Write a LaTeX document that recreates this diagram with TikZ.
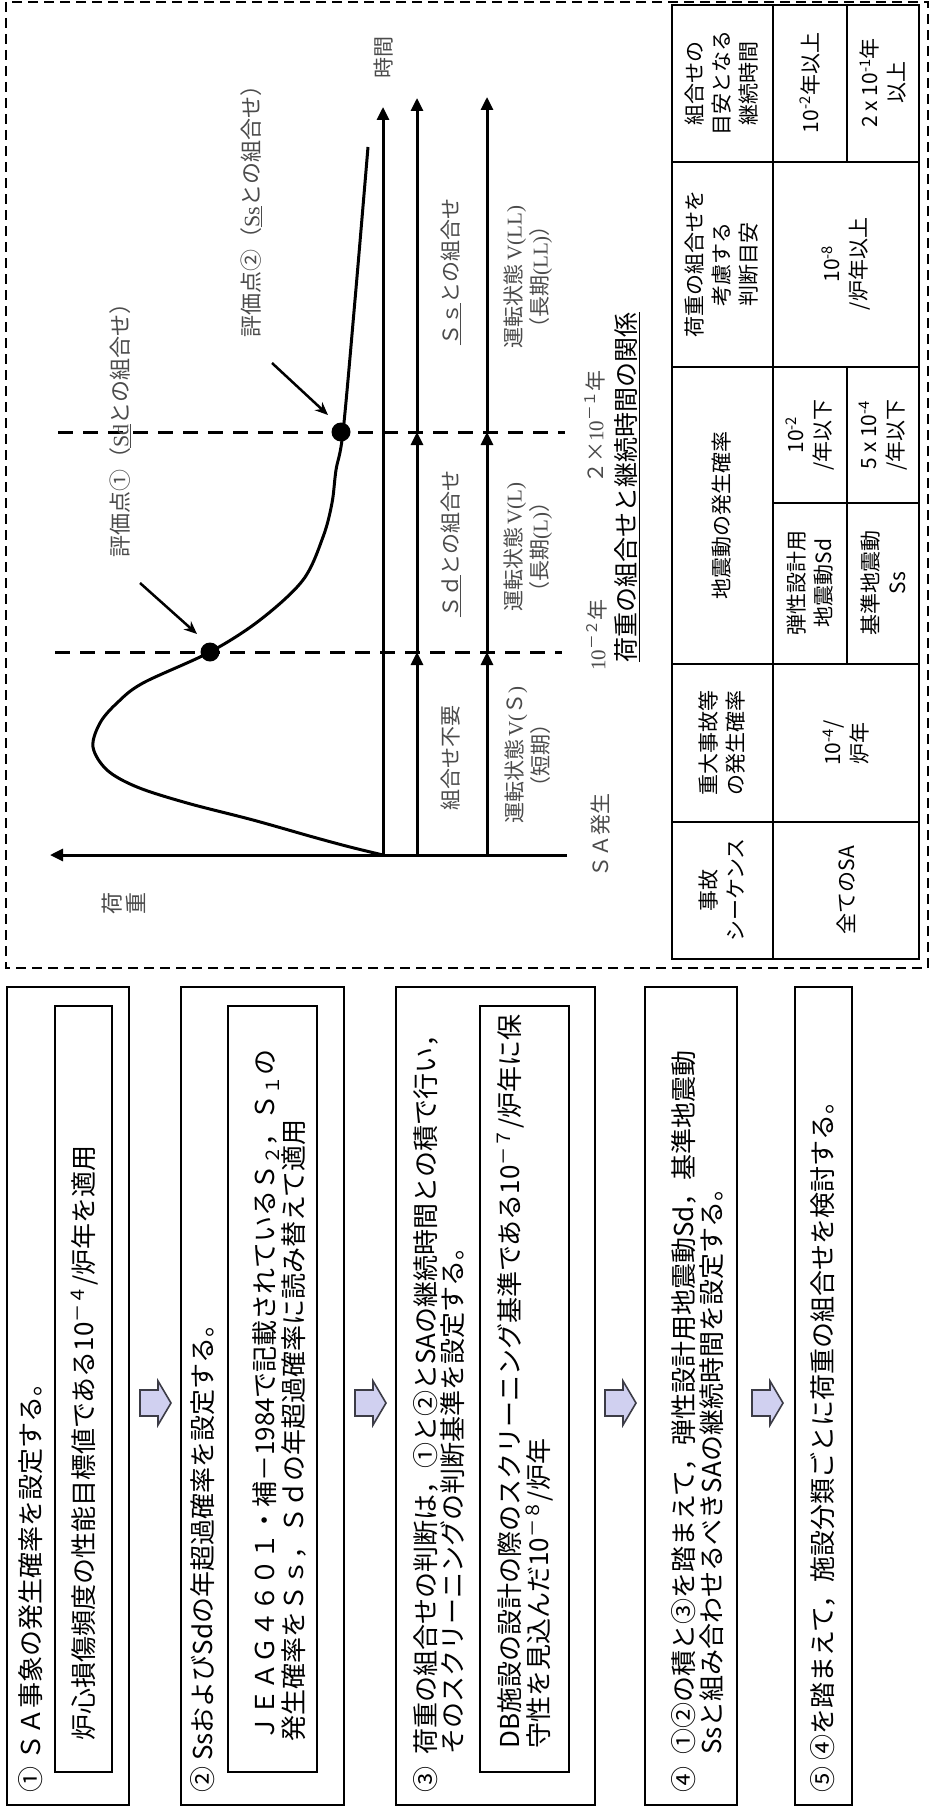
\documentclass[tikz,border=0pt]{standalone}
\usepackage{fontspec}
\setmainfont{Noto Sans CJK JP}
\newfontfamily\lser{Liberation Serif}
\usetikzlibrary{arrows.meta}
\definecolor{arrowfill}{RGB}{208,208,240}
\definecolor{arrowline}{RGB}{60,60,70}
\definecolor{graphtxt}{RGB}{75,75,75}
\begin{document}
\begin{tikzpicture}[x=1pt,y=-1pt,
  frame/.style={line width=2pt, dash pattern=on 10pt off 6pt},
  box/.style={line width=2pt},
  ibox/.style={line width=1.8pt},
  rot/.style={rotate=90, inner sep=0pt},
  steptxt/.style={rot, anchor=west, font=\fontsize{26}{28}\selectfont},
  gtxt/.style={rot, text=graphtxt, align=center, font=\fontsize{21}{26}\selectfont},
  ttxt/.style={rot, align=center, font=\fontsize{21}{27}\selectfont},
  axisline/.style={line width=3pt},
  tip/.style={-{Triangle[length=13pt,width=12pt]}},
  gdash/.style={line width=3pt, dash pattern=on 15pt off 10pt},
  dot/.style={circle, fill=black, minimum size=19pt, inner sep=0pt},
  pointer/.style={line width=2.5pt, -{Stealth[length=13pt,width=11pt]}},
  blockarrow/.style={draw=arrowline, fill=arrowfill, line width=1.6pt, line join=miter},
  tline/.style={line width=1.6pt}
]
\useasboundingbox (0,0) rectangle (930,1809);
\fill[white] (0,0) rectangle (930,1809);

%================ dashed frame =================
\draw[frame] (6,2) rectangle (928,968);

%================ graph =================
% curve
\draw[line width=3pt] plot[smooth, tension=0.55] coordinates {
 (368,147) (355,300) (343,432) (336,470) (332,503) (323,537) (303,580) (260,620)
 (210,652) (143,683) (117,703) (100,723) (93,747) (107,770) (137,787) (187,803)
 (253,820) (313,837) (350,847) (383,855)};

% dashed time marks
\coordinate (dA0) at (55,652);  \coordinate (dA1) at (562,652);
\coordinate (dB0) at (58,432);  \coordinate (dB1) at (565,432);
\draw[gdash] (dA0) -- (dA1);
\draw[gdash] (dB0) -- (dB1);

% axes
\coordinate (o) at (383,855);
\coordinate (bend) at (567,855);
\coordinate (loadtip) at (50,855);
\coordinate (timetip) at (383,107);
\draw[axisline, tip] (bend) -- (loadtip);
\draw[axisline, tip] (o) -- (timetip);

% duration arrows
\foreach \c/\t in {417/98, 487/97}{
  \draw[axisline, tip] (\c,855) -- (\c,652);
  \draw[axisline, tip] (\c,652) -- (\c,432);
  \draw[axisline, tip] (\c,432) -- (\c,\t);
}

% evaluation points
\node[dot] (p1) at (210,652) {};
\node[dot] (p2) at (341,432) {};
\coordinate (p1s) at (140,583); \coordinate (p1e) at (197,634);
\coordinate (p2s) at (272,363); \coordinate (p2e) at (328,415);
\draw[pointer] (p1s) -- (p1e);
\draw[pointer] (p2s) -- (p2e);

% graph labels
\node[gtxt, font=\fontsize{22}{26}\selectfont] (lp1) at (120,425) {評価点①（\underline{\lser Sd}との組合せ）};
\node[gtxt, font=\fontsize{22}{26}\selectfont] (lp2) at (251,206) {評価点②（\underline{\lser Ss}との組合せ）};
\node[gtxt, font=\fontsize{22}{24}\selectfont] (lload) at (124,903) {荷\\重};
\node[gtxt] (ltime) at (384,58) {時間};
\node[gtxt] (l1) at (451,758) {組合せ不要};
\node[gtxt] (l2) at (451,544) {\underline{Ｓｄ}との組合せ};
\node[gtxt] (l3) at (451,272) {\underline{Ｓｓ}との組合せ};
\node[gtxt] (s1) at (528,755) {運転状態{\lser\,V(}Ｓ{\lser)}\\（短期）};
\node[gtxt] (s2) at (528,547) {運転状態{\lser\,V(L)}\\（長期{\lser(L)}）};
\node[gtxt] (s3) at (528,277) {運転状態{\lser\,V(LL)}\\（長期{\lser(LL)}）};
\node[gtxt] (t1) at (597,635) {{\lser 10}\textsuperscript{－２}年};
\node[gtxt] (t2) at (595,427) {２×{\lser 10}\textsuperscript{－１}年};
\node[gtxt] (t0) at (601,835) {ＳＡ発生};
\node[rot, font=\fontsize{25}{28}\selectfont] (gtitle) at (627,487) {\underline{荷重の組合せと継続時間の関係}};

%================ table =================
\draw[tline] (672,5) rectangle (919,959);
\draw[tline] (773,5) -- (773,959);
\foreach \yy in {162,367,664,822} \draw[tline] (672,\yy) -- (919,\yy);
\draw[tline] (847,5) -- (847,162);
\draw[tline] (847,367) -- (847,664);
\draw[tline] (773,503) -- (919,503);

\node[ttxt] (h1) at (722,83) {組合せの\\目安となる\\継続時間};
\node[ttxt] (h2) at (722,264) {荷重の組合せを\\考慮する\\判断目安};
\node[ttxt] (h3) at (722,515) {地震動の発生確率};
\node[ttxt] (h4) at (722,743) {重大事故等\\の発生確率};
\node[ttxt] (h5) at (722,890) {事故\\シーケンス};
\node[ttxt] (c11) at (810,83) {10\textsuperscript{-2}年以上};
\node[ttxt] (c12) at (883,83) {2 x 10\textsuperscript{-1}年\\以上};
\node[ttxt] (c2) at (846,264) {10\textsuperscript{-8}\\/炉年以上};
\node[ttxt] (c31) at (810,435) {10\textsuperscript{-2}\\/年以下};
\node[ttxt] (c32) at (883,435) {5 x 10\textsuperscript{-4}\\/年以下};
\node[ttxt] (c41) at (810,583) {弾性設計用\\地震動Sd};
\node[ttxt] (c42) at (883,583) {基準地震動\\Ss};
\node[ttxt] (c5) at (846,743) {10\textsuperscript{-4}/\\炉年};
\node[ttxt] (c6) at (846,890) {全てのSA};

%================ steps =================
% box 1
\draw[box] (7,987) rectangle (129,1805);
\draw[ibox] (55,1006) rectangle (112,1772);
\node[steptxt] (st1) at (31,1793) {① ＳＡ事象の発生確率を設定する。};
\node[steptxt] (st1a) at (85,1741) {炉心損傷頻度の性能目標値である10\textsuperscript{－４}/炉年を適用};
% box 2
\draw[box] (181,987) rectangle (344,1805);
\draw[ibox] (228,1006) rectangle (317,1772);
\node[steptxt] (st2) at (203,1793) {② SsおよびSdの年超過確率を設定する。};
\node[steptxt] (st2a) at (266,1742) {ＪＥＡＧ４６０１・補－1984で記載されているＳ\textsubscript{２}，Ｓ\textsubscript{１}の};
\node[steptxt] (st2b) at (294,1742) {発生確率をＳｓ，Ｓｄの年超過確率に読み替えて適用};
% box 3
\draw[box] (396,987) rectangle (595,1805);
\draw[ibox] (480,1006) rectangle (569,1772);
\node[steptxt] (st3n) at (426,1793) {③};
\node[steptxt] (st3) at (426,1755) {荷重の組合せの判断は，①と②とSAの継続時間との積で行い，};
\node[steptxt] (st3b) at (453,1755) {そのスクリーニングの判断基準を設定する。};
\node[steptxt] (st3c) at (511,1749) {DB施設の設計の際のスクリーニング基準である10\textsuperscript{－７}/炉年に保};
\node[steptxt] (st3d) at (540,1749) {守性を見込んだ10\textsuperscript{－８}/炉年};
% box 4
\draw[box] (645,987) rectangle (737,1805);
\node[steptxt] (st4n) at (684,1793) {④};
\node[steptxt] (st4) at (684,1755) {①②の積と③を踏まえて，弾性設計用地震動Sd，基準地震動};
\node[steptxt] (st4b) at (712,1755) {Ssと組み合わせるべきSAの継続時間を設定する。};
% box 5
\draw[box] (795,987) rectangle (852,1805);
\node[steptxt] (st5) at (823,1793) {⑤ ④を踏まえて，施設分類ごとに荷重の組合せを検討する。};

% block arrows (pointing down the flow)
\foreach \cx in {155,370,620,767}{
  \draw[blockarrow] ({\cx-15},1390) -- ({\cx+3},1390) -- ({\cx+3},1381) -- ({\cx+16},1403)
     -- ({\cx+3},1425) -- ({\cx+3},1416) -- ({\cx-15},1416) -- cycle;
}
\end{tikzpicture}
\end{document}
